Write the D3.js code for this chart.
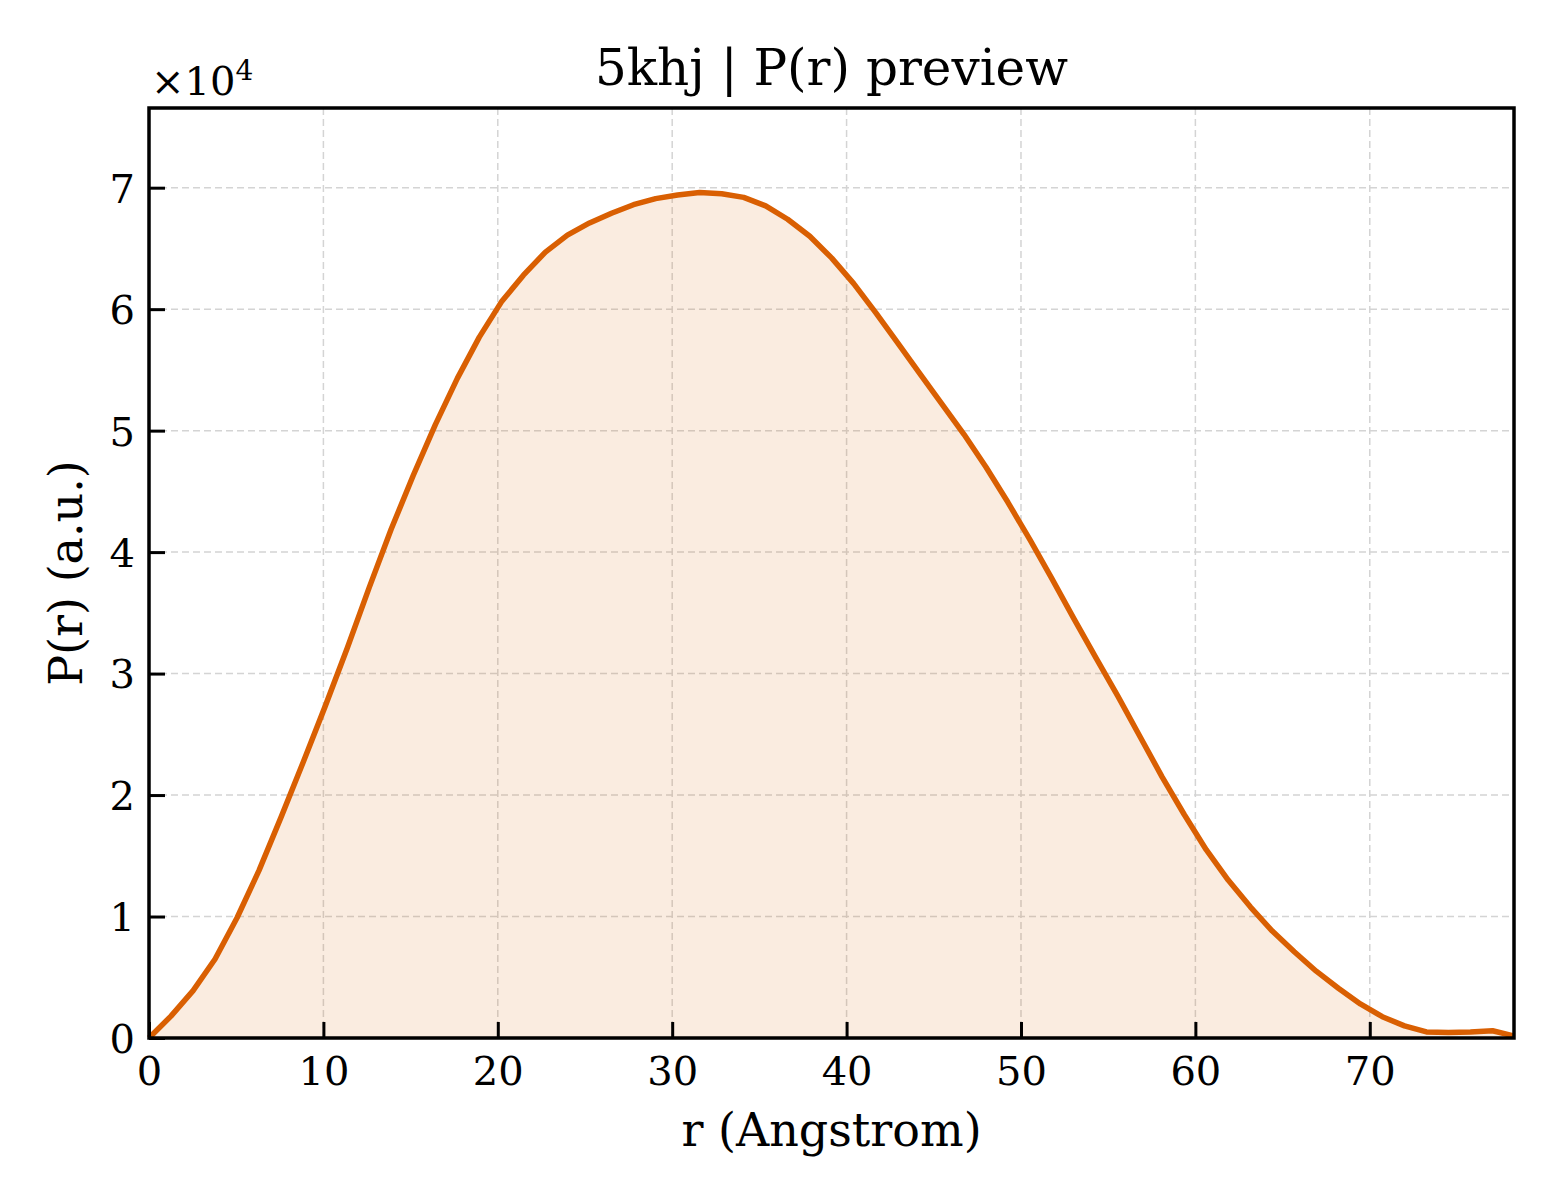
<!DOCTYPE html>
<html>
<head>
<meta charset="utf-8">
<script src="https://cdn.jsdelivr.net/npm/d3@7"></script>
<style>
  body { margin: 0; background: #fff; }
  svg text { font-family: "DejaVu Serif", serif; fill: #000; }
</style>
</head>
<body>
<div id="viz"></div>
<script>
// r in Angstrom
var rValues = [0, 1.26, 2.53, 3.79, 5.05, 6.31, 7.58, 8.84, 10.10, 11.37,
  12.63, 13.89, 15.15, 16.42, 17.68, 18.94, 20.21, 21.47, 22.73, 23.99,
  25.26, 26.52, 27.78, 29.05, 30.31, 31.57, 32.84, 34.10, 35.36, 36.62,
  37.89, 39.15, 40.41, 41.68, 42.94, 44.20, 45.46, 46.73, 47.99, 49.25,
  50.52, 51.78, 53.04, 54.30, 55.57, 56.83, 58.09, 59.36, 60.62, 61.88,
  63.15, 64.41, 65.67, 66.93, 68.20, 69.46, 70.72, 71.99, 73.25, 74.51,
  75.77, 77.04, 78.30];

// P(r), a.u.
var pValues = [0, 1800, 3900, 6500, 9900, 13800, 18200, 22700, 27300, 32100,
  37100, 41900, 46300, 50500, 54300, 57700, 60600, 62800, 64700, 66100,
  67100, 67900, 68600, 69100, 69400, 69600, 69500, 69200, 68500, 67400,
  66000, 64200, 62100, 59700, 57200, 54700, 52200, 49700, 47000, 44100,
  41000, 37800, 34500, 31300, 28100, 24800, 21500, 18400, 15500, 13000,
  10800, 8800, 7100, 5500, 4100, 2800, 1750, 1000, 500, 450,
  500, 600, 150];

var xTicks = [0, 10, 20, 30, 40, 50, 60, 70];
var yTicks = [0, 10000, 20000, 30000, 40000, 50000, 60000, 70000];

var title = "5khj | P(r) preview";
var xLabel = "r (Angstrom)";
var yLabel = "P(r) (a.u.)";
var lineColor = "#d95f02";

var W = 1560, H = 1200;
var margin = {left: 149, right: 46, top: 108, bottom: 162};
var iw = W - margin.left - margin.right;
var ih = H - margin.top - margin.bottom;

var svg = d3.select("#viz").append("svg")
  .attr("width", W).attr("height", H);

var x = d3.scaleLinear().domain([0, 78.27]).range([0, iw]);
var y = d3.scaleLinear().domain([0, 76560]).range([ih, 0]);

var g = svg.append("g").attr("transform", "translate(" + margin.left + "," + margin.top + ")");

var data = rValues.map(function(r, i) { return {r: r, p: pValues[i]}; });

// grid
g.append("g").selectAll("line").data(xTicks.slice(1)).enter().append("line")
  .attr("x1", function(d) { return x(d); }).attr("x2", function(d) { return x(d); })
  .attr("y1", 0).attr("y2", ih)
  .attr("stroke", "#d4d4d4").attr("stroke-width", 1.5).attr("stroke-dasharray", "7,4");
g.append("g").selectAll("line").data(yTicks.slice(1)).enter().append("line")
  .attr("x1", 0).attr("x2", iw)
  .attr("y1", function(d) { return y(d); }).attr("y2", function(d) { return y(d); })
  .attr("stroke", "#d4d4d4").attr("stroke-width", 1.5).attr("stroke-dasharray", "7,4");

// fill + line
var area = d3.area().x(function(d) { return x(d.r); }).y0(y(0)).y1(function(d) { return y(d.p); });
var line = d3.line().x(function(d) { return x(d.r); }).y(function(d) { return y(d.p); });

g.append("path").datum(data).attr("d", area)
  .attr("fill", lineColor).attr("fill-opacity", 0.12);
g.append("path").datum(data).attr("d", line)
  .attr("fill", "none").attr("stroke", lineColor).attr("stroke-width", 5.5)
  .attr("stroke-linejoin", "round");

// axes, ticks inward
var xAxis = d3.axisBottom(x).tickValues(xTicks).tickSize(-16).tickPadding(19).tickFormat(d3.format("d"));
var yAxis = d3.axisLeft(y).tickValues(yTicks).tickSize(-16).tickPadding(14)
  .tickFormat(function(d) { return d / 10000; });

var gx = g.append("g").attr("transform", "translate(0," + ih + ")").call(xAxis);
var gy = g.append("g").call(yAxis);
[gx, gy].forEach(function(a) {
  a.select(".domain").remove();
  a.selectAll(".tick line").attr("stroke", "#000").attr("stroke-width", 3);
  a.selectAll(".tick text").attr("font-size", 40).attr("font-family", "DejaVu Serif").attr("fill", "#000");
});
gx.selectAll(".tick text").attr("dy", "0.71em");
gy.selectAll(".tick text").attr("dy", "0.36em");

// frame
g.append("rect").attr("x", 0).attr("y", 0).attr("width", iw).attr("height", ih)
  .attr("fill", "none").attr("stroke", "#000").attr("stroke-width", 3.5);

// labels
svg.append("text").attr("x", margin.left + iw / 2).attr("y", 85)
  .attr("text-anchor", "middle").attr("font-size", 50).text(title);

svg.append("text").attr("x", margin.left + iw / 2).attr("y", 1146)
  .attr("text-anchor", "middle").attr("font-size", 46).text(xLabel);

svg.append("text").attr("transform", "translate(82," + (margin.top + ih / 2) + ") rotate(-90)")
  .attr("text-anchor", "middle").attr("font-size", 46).text(yLabel);

var off = svg.append("text").attr("x", 151).attr("y", 95).attr("font-size", 40);
off.append("tspan").text("\u00d710");
off.append("tspan").attr("font-size", 28).attr("dy", -15).text("4");
</script>
</body>
</html>
